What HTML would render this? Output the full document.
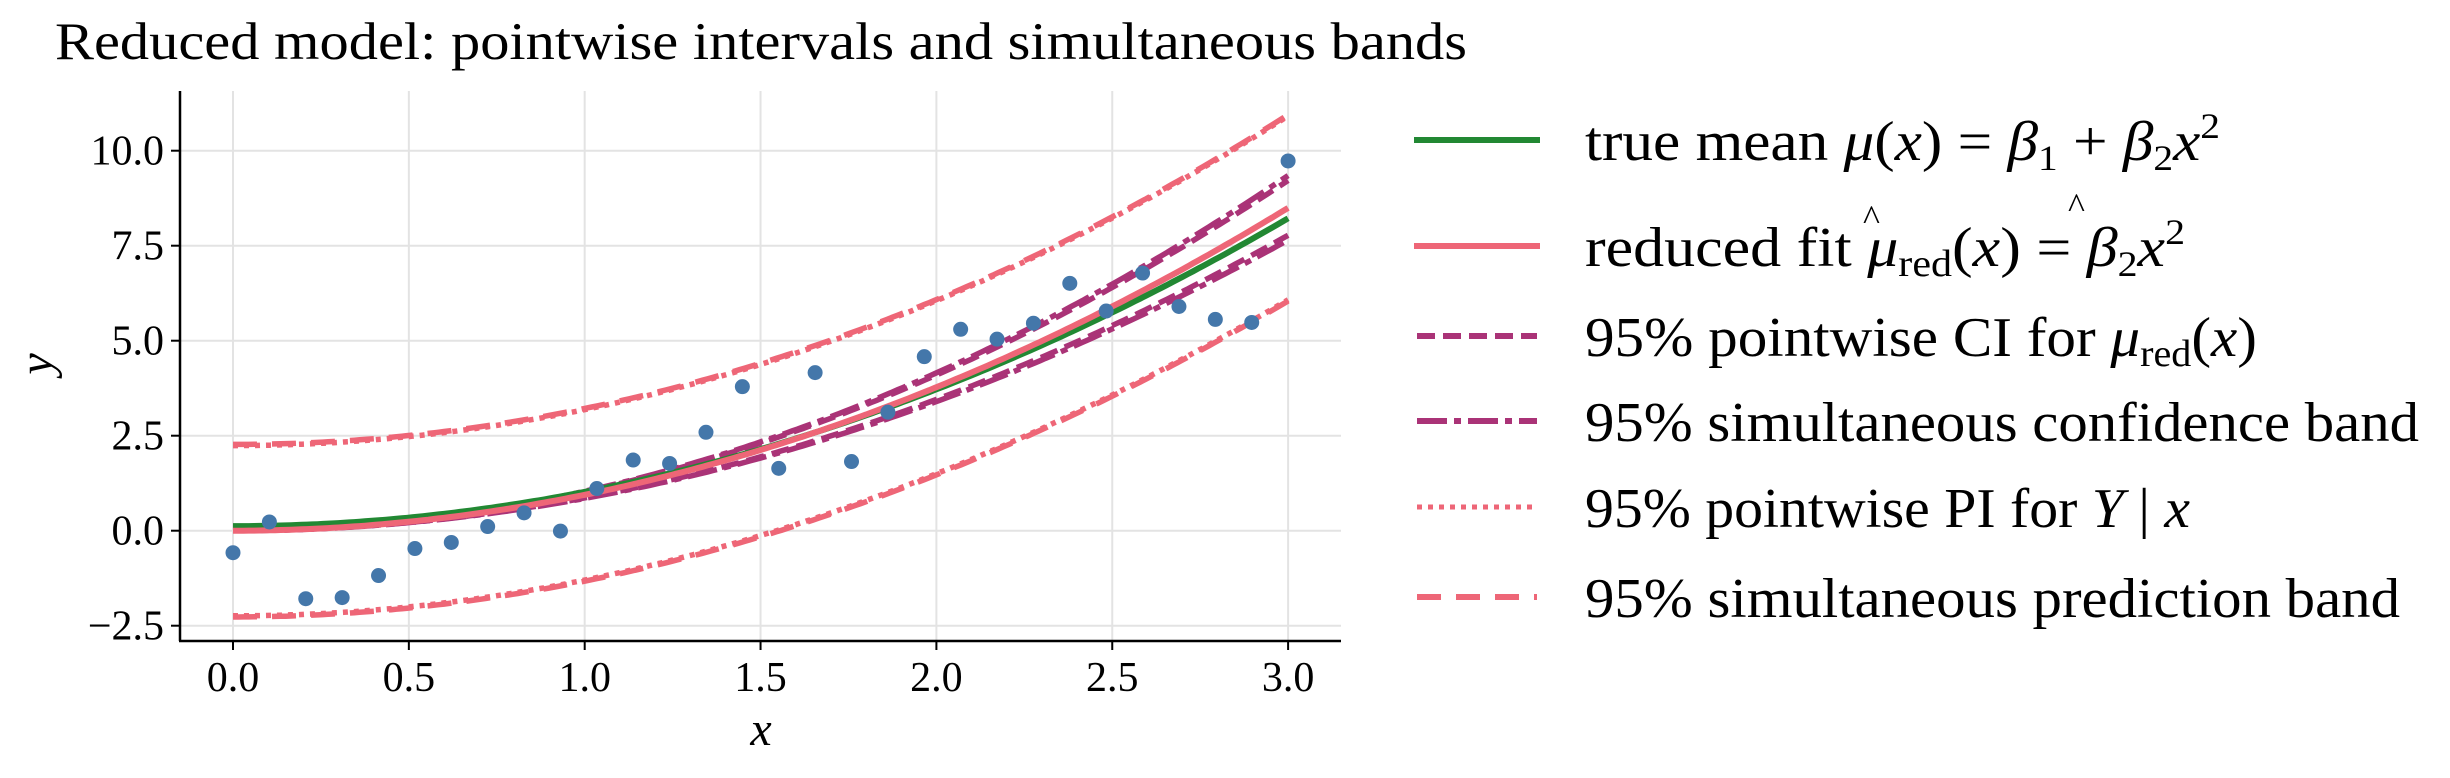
<!DOCTYPE html>
<html><head><meta charset="utf-8"><style>
html,body{margin:0;padding:0;background:#fff;}
svg{display:block;}
text{font-family:"Liberation Serif",serif;fill:#000;}
</style></head><body>
<svg id="s" width="2450" height="778" viewBox="0 0 2450 778" xmlns="http://www.w3.org/2000/svg">
<rect width="2450" height="778" fill="#fff"/>
<text x="55" y="59" font-size="53" textLength="1412" lengthAdjust="spacingAndGlyphs">Reduced model: pointwise intervals and simultaneous bands</text>
<g id="grid" stroke="#e3e3e3" stroke-width="2"></g>
<g id="curves" fill="none"></g>
<g id="pts" fill="#4477aa"></g>
<line x1="180" y1="91" x2="180" y2="641" stroke="#000" stroke-width="2.5"/>
<line x1="179" y1="641" x2="1341" y2="641" stroke="#000" stroke-width="2.5"/>
<g id="ticks" stroke="#000" stroke-width="2"></g>
<g id="tl" font-size="42"></g>
<text x="761" y="745" font-size="48" font-style="italic" text-anchor="middle">x</text>
<text x="0" y="0" font-size="48" font-style="italic" text-anchor="middle" transform="translate(52,364) rotate(-90)">y</text>
<g stroke-width="6">
<line x1="1414" y1="140" x2="1540" y2="140" stroke="#228833"/>
<line x1="1414" y1="246" x2="1540" y2="246" stroke="#ee6677"/>
<line x1="1417" y1="336" x2="1537" y2="336" stroke="#aa3377" stroke-dasharray="18 8"/>
<line x1="1417" y1="421" x2="1537" y2="421" stroke="#aa3377" stroke-dasharray="30 7 7 7"/>
<line x1="1417" y1="507" x2="1537" y2="507" stroke="#ee6677" stroke-dasharray="5 6" stroke-width="5"/>
<line x1="1417" y1="597" x2="1537" y2="597" stroke="#ee6677" stroke-dasharray="24 15"/>
</g>
<g font-size="56">
<text x="1585" y="160" textLength="635" lengthAdjust="spacingAndGlyphs">true mean <tspan font-style="italic">μ</tspan>(<tspan font-style="italic">x</tspan>) = <tspan font-style="italic">β</tspan><tspan font-size="36" dy="10">1</tspan><tspan dy="-10"> + </tspan><tspan font-style="italic">β</tspan><tspan font-size="36" dy="10">2</tspan><tspan font-style="italic" dy="-10">x</tspan><tspan font-size="36" dy="-22">2</tspan></text>
<text x="1585" y="266" textLength="600" lengthAdjust="spacingAndGlyphs">reduced fit <tspan font-style="italic">μ</tspan><tspan font-size="38" dy="10">red</tspan><tspan dy="-10">(</tspan><tspan font-style="italic">x</tspan>) = <tspan font-style="italic">β</tspan><tspan font-size="36" dy="10">2</tspan><tspan font-style="italic" dy="-10">x</tspan><tspan font-size="36" dy="-22">2</tspan></text>
<text x="1863" y="230" font-size="36">^</text>
<text x="2068" y="218" font-size="36">^</text>
<text x="1585" y="356" textLength="672" lengthAdjust="spacingAndGlyphs">95% pointwise CI for <tspan font-style="italic">μ</tspan><tspan font-size="38" dy="10">red</tspan><tspan dy="-10">(</tspan><tspan font-style="italic">x</tspan>)</text>
<text x="1585" y="441" textLength="834" lengthAdjust="spacingAndGlyphs">95% simultaneous confidence band</text>
<text x="1585" y="527" textLength="605" lengthAdjust="spacingAndGlyphs">95% pointwise PI for <tspan font-style="italic">Y</tspan> | <tspan font-style="italic">x</tspan></text>
<text x="1585" y="617" textLength="815" lengthAdjust="spacingAndGlyphs">95% simultaneous prediction band</text>
</g>
</svg>
<script>
(function(){
var NS="http://www.w3.org/2000/svg";
function X(x){return 233+351.7*x;}
function Y(y){return 530.7-38*y;}
function el(p,t,a){var e=document.createElementNS(NS,t);for(var k in a)e.setAttribute(k,a[k]);document.getElementById(p).appendChild(e);return e;}
for(var i=0;i<=6;i++){var x=X(i*0.5);el("grid","line",{x1:x,y1:91,x2:x,y2:641});}
for(var j=-1;j<=4;j++){var y=Y(j*2.5);el("grid","line",{x1:180,y1:y,x2:1341,y2:y});}
var xl=["0.0","0.5","1.0","1.5","2.0","2.5","3.0"];
for(var i=0;i<=6;i++){var x=X(i*0.5);el("ticks","line",{x1:x,y1:641,x2:x,y2:650});var t=el("tl","text",{x:x,y:691,"text-anchor":"middle"});t.textContent=xl[i];}
var yl=["−2.5","0.0","2.5","5.0","7.5","10.0"];
for(var j=-1;j<=4;j++){var y=Y(j*2.5);el("ticks","line",{x1:171,y1:y,x2:180,y2:y});var t=el("tl","text",{x:164,y:y+14,"text-anchor":"end"});t.textContent=yl[j+1];}
function path(f,attrs){var d="";for(var k=0;k<=200;k++){var x=3*k/200;d+=(k?"L":"M")+X(x).toFixed(1)+","+Y(f(x)).toFixed(1);}attrs.d=d;el("curves","path",attrs);}
var b=0.944;
function pi(x,c){return c*Math.sqrt(1+0.00205*Math.pow(x,4));}
var w=5.5;
path(function(x){return b*x*x+pi(x,2.27);},{stroke:"#ee6677","stroke-width":w,"stroke-dasharray":"24 15"});
path(function(x){return b*x*x-pi(x,2.27);},{stroke:"#ee6677","stroke-width":w,"stroke-dasharray":"24 15"});
path(function(x){return b*x*x+pi(x,2.24);},{stroke:"#ee6677","stroke-width":w,"stroke-dasharray":"5 6"});
path(function(x){return b*x*x-pi(x,2.24);},{stroke:"#ee6677","stroke-width":w,"stroke-dasharray":"5 6"});
path(function(x){return b*x*x*1.1;},{stroke:"#aa3377","stroke-width":w,"stroke-dasharray":"30 7 7 7"});
path(function(x){return b*x*x*0.9;},{stroke:"#aa3377","stroke-width":w,"stroke-dasharray":"30 7 7 7"});
path(function(x){return b*x*x*1.085;},{stroke:"#aa3377","stroke-width":w,"stroke-dasharray":"18 8"});
path(function(x){return b*x*x*0.915;},{stroke:"#aa3377","stroke-width":w,"stroke-dasharray":"18 8"});
path(function(x){return 0.12+0.9*x*x;},{stroke:"#228833","stroke-width":6});
path(function(x){return b*x*x;},{stroke:"#ee6677","stroke-width":6});
var ys=[-0.58,0.23,-1.79,-1.76,-1.18,-0.47,-0.31,0.11,0.47,-0.01,1.11,1.86,1.77,2.59,3.79,1.64,4.16,1.82,3.12,4.58,5.30,5.04,5.46,6.51,5.78,6.78,5.90,5.56,5.48,9.73];
for(var i=0;i<30;i++){el("pts","circle",{cx:X(i*3/29),cy:Y(ys[i]),r:7.5});}
})();
</script>
</body></html>
